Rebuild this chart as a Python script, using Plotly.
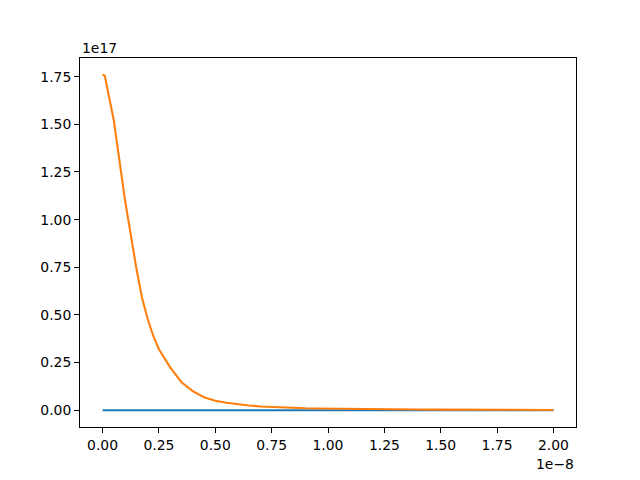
import plotly.graph_objects as go

# time grid (s)
x_vals = [0.0, 1e-10, 5e-10, 1.0e-9, 1.5e-9, 1.75e-9, 2.0e-9, 2.25e-9, 2.5e-9, 3.0e-9, 3.5e-9, 4.0e-9, 4.5e-9,
          5.0e-9, 5.5e-9, 6.0e-9, 6.5e-9, 7.0e-9, 7.5e-9, 8.0e-9, 8.5e-9, 9.0e-9, 9.5e-9,
          1.0e-8, 1.1e-8, 1.2e-8, 1.3e-8, 1.4e-8, 1.5e-8, 1.6e-8, 1.7e-8, 1.8e-8, 1.9e-8, 2.0e-8]

blue_vals = [0.0, 0.0, 0.0, 0.0, 0.0, 0.0, 0.0, 0.0, 0.0, 0.0, 0.0, 0.0, 0.0,
             0.0, 0.0, 0.0, 0.0, 0.0, 0.0, 0.0, 0.0, 0.0, 0.0,
             0.0, 0.0, 0.0, 0.0, 0.0, 0.0, 0.0, 0.0, 0.0, 0.0, 0.0]

orange_vals = [1.76e17, 1.755e17, 1.52e17, 1.10e17, 0.745e17, 0.59e17, 0.48e17, 0.39e17, 0.32e17,
               0.225e17, 0.147e17, 0.100e17, 0.068e17, 0.050e17, 0.039e17, 0.031e17, 0.025e17,
               0.020e17, 0.017e17, 0.015e17, 0.012e17, 0.010e17, 0.009e17, 0.008e17, 0.006e17,
               0.005e17, 0.004e17, 0.0035e17, 0.003e17, 0.0025e17, 0.002e17, 0.002e17, 0.0018e17, 0.0015e17]

x_tickvals = [0.0, 0.25e-8, 0.5e-8, 0.75e-8, 1.0e-8, 1.25e-8, 1.5e-8, 1.75e-8, 2.0e-8]
x_ticktext = ["0.00", "0.25", "0.50", "0.75", "1.00", "1.25", "1.50", "1.75", "2.00"]
y_tickvals = [0.0, 0.25e17, 0.5e17, 0.75e17, 1.0e17, 1.25e17, 1.5e17, 1.75e17]
y_ticktext = ["0.00", "0.25", "0.50", "0.75", "1.00", "1.25", "1.50", "1.75"]

FONT = "DejaVu Sans"
FS = 13.9

fig = go.Figure()
fig.add_trace(go.Scatter(x=x_vals, y=blue_vals, mode="lines",
                         line=dict(color="#1f77b4", width=2.08)))
fig.add_trace(go.Scatter(x=x_vals, y=orange_vals, mode="lines",
                         line=dict(color="#ff7f0e", width=2.08)))

axis_common = dict(showline=True, mirror=True, linecolor="black", linewidth=1.1,
                   ticks="outside", ticklen=4.9, tickwidth=1.1, tickcolor="black",
                   showgrid=False, zeroline=False, automargin=False,
                   tickfont=dict(family=FONT, size=FS, color="black"))

# page body has an 8px margin, so the figure is 632x472 with adjusted margins
fig.update_layout(
    width=632, height=472,
    margin=dict(l=72, r=64, t=49.6, b=52.8),
    paper_bgcolor="white", plot_bgcolor="white",
    showlegend=False,
    xaxis=dict(range=[-1e-9, 2.1e-8], tickvals=x_tickvals, ticktext=x_ticktext, **axis_common),
    yaxis=dict(range=[-0.088e17, 1.848e17], tickvals=y_tickvals, ticktext=y_ticktext, **axis_common),
    annotations=[
        dict(text="1e\u22128", xref="paper", yref="paper", x=1, y=0, yshift=-27,
             xanchor="right", yanchor="top", showarrow=False,
             font=dict(family=FONT, size=FS, color="black")),
        dict(text="1e17", xref="paper", yref="paper", x=0, y=1, yshift=0,
             xanchor="left", yanchor="bottom", showarrow=False,
             font=dict(family=FONT, size=FS, color="black")),
    ],
)

fig.write_html("out.html")
